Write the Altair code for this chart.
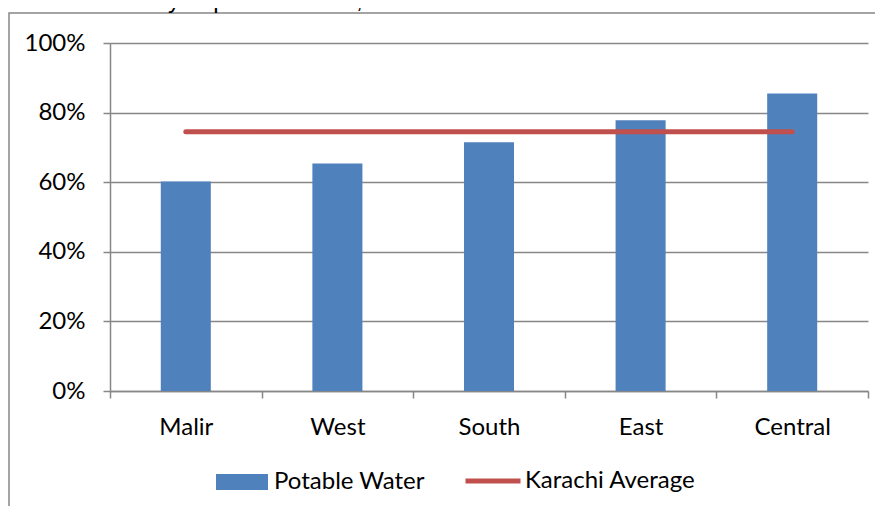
import altair as alt
import pandas as pd

districts = ["Malir", "West", "South", "East", "Central"]
potable_water = [0.602, 0.654, 0.715, 0.778, 0.855]
karachi_average = 0.745
y_ticks = [0, 0.2, 0.4, 0.6, 0.8, 1.0]
title_text = "Figure 7: Availability of potable water, across Karachi and its former districts"

GREY = "#878787"
LABEL_FONT = "Lato"

bars_df = pd.DataFrame({"District": districts, "Share": potable_water, "Series": "Potable Water"})
avg_df = pd.DataFrame({"District": districts, "Share": [karachi_average] * len(districts),
                       "Series": "Karachi Average"})
one_row = pd.DataFrame({"t": [title_text]})

x_enc = alt.X(
    "District:N", sort=districts,
    scale=alt.Scale(paddingInner=0, paddingOuter=0),
    axis=alt.Axis(title=None, labelAngle=0, tickBand="extent", grid=False,
                  domainColor=GREY, tickColor=GREY, tickSize=7, tickWidth=1.5, domainWidth=1.5,
                  labelPadding=17, labelFont=LABEL_FONT, labelFontSize=24, labelColor="black"),
)
y_enc = alt.Y(
    "Share:Q", scale=alt.Scale(domain=[0, 1]),
    axis=alt.Axis(title=None, values=y_ticks, format=".0%", grid=True, gridColor=GREY, gridWidth=1.5,
                  domainColor=GREY, tickColor=GREY, tickSize=7, tickWidth=1.5, domainWidth=1.5,
                  labelPadding=18, labelFont=LABEL_FONT, labelFontSize=24, labelColor="black"),
)

bars = alt.Chart(bars_df).mark_bar(width=alt.RelativeBandSize(0.33)).encode(
    x=x_enc, y=y_enc,
    fill=alt.Fill("Series:N", scale=alt.Scale(domain=["Potable Water"], range=["#4F81BD"]),
                  legend=alt.Legend(title=None, orient="none", legendX=106, legendY=413,
                                    direction="horizontal", padding=0,
                                    symbolType="M-1,-0.3077H1V0.3077H-1Z", symbolSize=2704,
                                    symbolStrokeWidth=0, labelOffset=6, labelLimit=0,
                                    labelFont=LABEL_FONT, labelFontSize=24, labelColor="black")),
)

line = alt.Chart(avg_df).mark_line(strokeWidth=5, strokeCap="round").encode(
    x=alt.X("District:N", sort=districts),
    y=alt.Y("Share:Q"),
    stroke=alt.Stroke("Series:N", scale=alt.Scale(domain=["Karachi Average"], range=["#C0504D"]),
                      legend=alt.Legend(title=None, orient="none", legendX=353, legendY=408,
                                        direction="horizontal", padding=0,
                                        symbolType="stroke", symbolSize=3025, symbolStrokeWidth=5,
                                        labelOffset=2, labelLimit=0,
                                        labelFont=LABEL_FONT, labelFontSize=24, labelColor="black")),
)

frame = alt.Chart(one_row).mark_rect(filled=False, stroke=GREY, strokeWidth=1.5).encode(
    x=alt.value(-101), x2=alt.value(900), y=alt.value(-30), y2=alt.value(600)
)

title = alt.Chart(one_row).mark_text(
    align="left", baseline="alphabetic", font="Liberation Sans", fontSize=24, color="black"
).encode(text="t:N", x=alt.value(-143), y=alt.value(-35.5))

chart = alt.layer(frame, bars, line, title).properties(
    width=758, height=348,
    autosize=alt.AutoSizeParams(type="none"),
    padding={"left": 102, "top": 35, "right": 7, "bottom": 115},
).configure_view(stroke=None)

chart.save("out.html", embed_options={"renderer": "svg", "actions": False})
